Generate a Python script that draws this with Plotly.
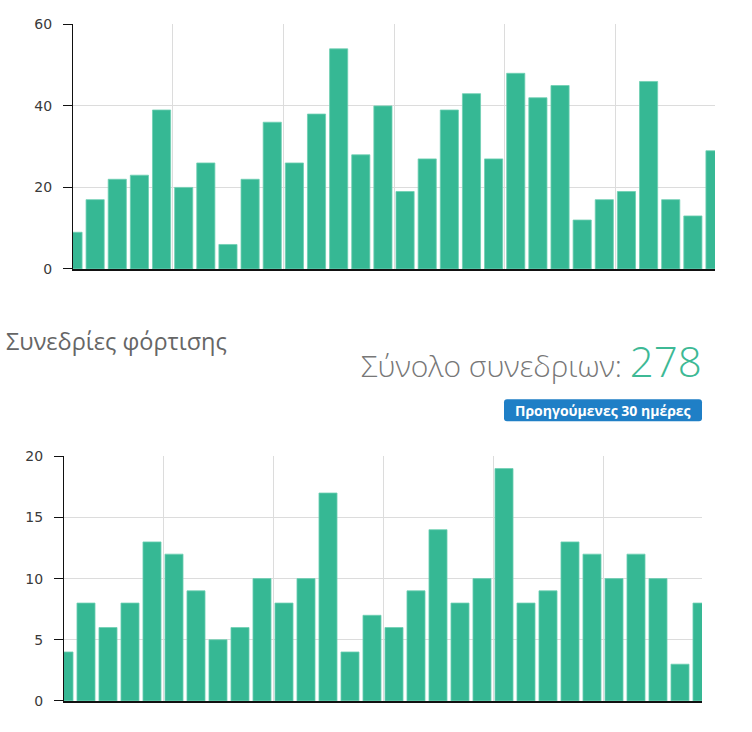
import plotly.graph_objects as go

# ---- data ----
days = list(range(1, 31))
energy_values = [9, 17, 22, 23, 39, 20, 26, 6, 22, 36, 26, 38, 54, 28, 40,
                 19, 27, 39, 43, 27, 48, 42, 45, 12, 17, 19, 46, 17, 13, 29]
session_values = [4, 8, 6, 8, 13, 12, 9, 5, 6, 10, 8, 10, 17, 4, 7,
                  6, 9, 14, 8, 10, 19, 8, 9, 13, 12, 10, 12, 10, 3, 8]
top_ticks = [0, 20, 40, 60]
bottom_ticks = [0, 5, 10, 15, 20]
grid_x = [5.5, 10.5, 15.5, 20.5, 25.5]
title_text = "Συνεδρίες φόρτισης"
total_label = "Σύνολο συνεδριων:"
total_value = sum(session_values)
badge_text = "Προηγούμενες 30 ημέρες"

W, H = 752, 732
GREEN = "#36b894"

def px(x):
    return x / W

def py(y):
    # compensate for the slight vertical squeeze seen in the capture
    y = 360 + (y - 360) / 0.976
    return (H - y) / H

fig = go.Figure()
fig.add_trace(go.Bar(x=days, y=energy_values, marker=dict(color=GREEN, line=dict(color="#6fcfb2", width=0.8)),
                     xaxis="x", yaxis="y", hoverinfo="x+y"))
fig.add_trace(go.Bar(x=days, y=session_values, marker=dict(color=GREEN, line=dict(color="#6fcfb2", width=0.8)),
                     xaxis="x2", yaxis="y2", hoverinfo="x+y"))

xcommon = dict(range=[1, 30], tickvals=grid_x, showticklabels=False, ticks="",
               showgrid=True, gridcolor="#dcdcdc", gridwidth=1, zeroline=False,
               showline=True, linecolor="#111", linewidth=2, fixedrange=True)
ycommon = dict(showgrid=True, gridcolor="#dcdcdc", gridwidth=1, zeroline=False,
               showline=True, linecolor="#111", linewidth=1, ticks="outside",
               ticklen=9, tickcolor="#111", tickwidth=1, ticklabelstandoff=8,
               tickfont=dict(family="DejaVu Sans", size=14, color="#3a3a3a"),
               fixedrange=True)

fig.update_layout(
    width=W, height=H,
    margin=dict(l=0, r=0, t=0, b=0),
    paper_bgcolor="white", plot_bgcolor="white",
    showlegend=False, bargap=0.18,
    xaxis=dict(domain=[px(73), px(715)], anchor="y", **xcommon),
    yaxis=dict(domain=[py(269), py(25)], anchor="x", range=[0, 60], tickvals=top_ticks, **ycommon),
    xaxis2=dict(domain=[px(64), px(702)], anchor="y2", **xcommon),
    yaxis2=dict(domain=[py(700), py(456)], anchor="x2", range=[0, 20], tickvals=bottom_ticks, **ycommon),
)

# badge
x0, x1, y0, y1, r = px(504), px(702), py(421), py(399), 3
rx, ry = r / W, r / H
path = (f"M {x0+rx},{y1} L {x1-rx},{y1} Q {x1},{y1} {x1},{y1-ry} "
        f"L {x1},{y0+ry} Q {x1},{y0} {x1-rx},{y0} L {x0+rx},{y0} "
        f"Q {x0},{y0} {x0},{y0+ry} L {x0},{y1-ry} Q {x0},{y1} {x0+rx},{y1} Z")
fig.add_shape(type="path", path=path, xref="paper", yref="paper",
              fillcolor="#1f7fc6", line=dict(width=0), layer="above")

fig.add_annotation(x=px(603), y=py(410), xref="paper", yref="paper", text=f"<b>{badge_text}</b>",
                   showarrow=False, xanchor="center", yanchor="middle",
                   font=dict(family="Open Sans", size=14, color="white"))

fig.add_annotation(x=px(4), y=py(341), xref="paper", yref="paper", text=title_text,
                   showarrow=False, xanchor="left", yanchor="middle",
                   font=dict(family="Open Sans", size=23.5, color="#666"))

fig.add_annotation(x=px(704), y=py(360), xref="paper", yref="paper",
                   text=f"{total_label} <span style='font-size:42px;color:#3db995'>{total_value}</span>",
                   showarrow=False, xanchor="right", yanchor="middle",
                   font=dict(family="Open Sans", size=30, color="#777", weight=300))

fig.write_html("out.html", config={"displayModeBar": False},
               post_script="document.body.style.margin='0px';document.body.style.overflow='hidden';")
